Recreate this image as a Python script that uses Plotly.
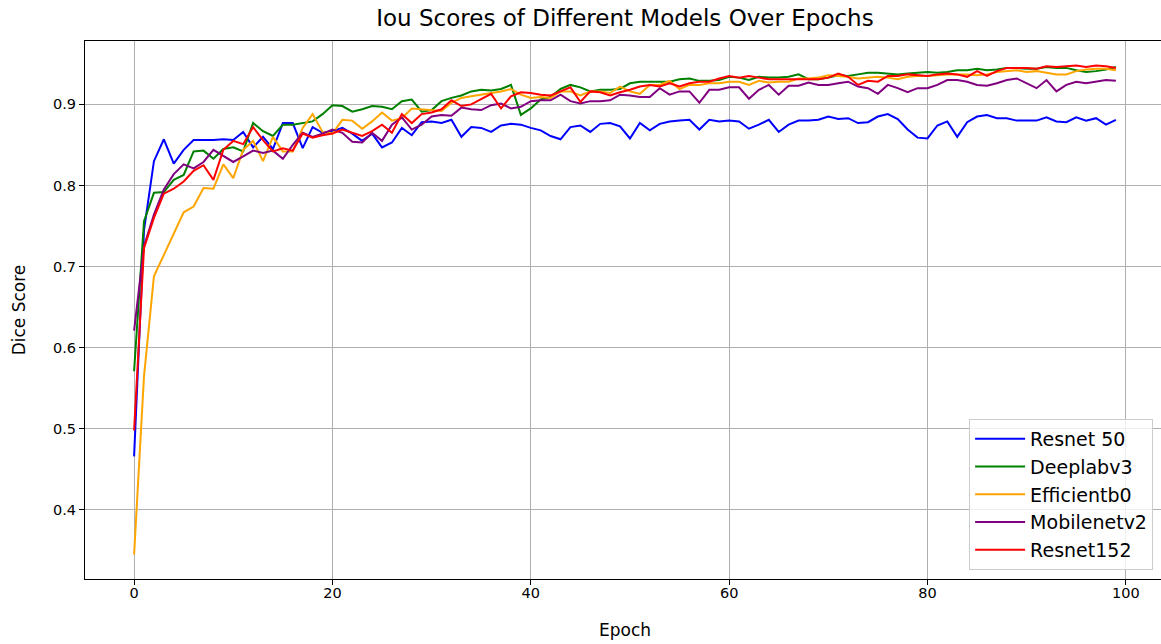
import plotly.graph_objects as go

epochs = list(range(100))

resnet50 = [0.466, 0.745, 0.830, 0.857, 0.827, 0.844, 0.856, 0.856, 0.856, 0.857,
            0.856, 0.866, 0.847, 0.860, 0.845, 0.877, 0.877, 0.846, 0.872, 0.865,
            0.867, 0.871, 0.864, 0.855, 0.864, 0.847, 0.853, 0.871, 0.862, 0.878,
            0.879, 0.877, 0.881, 0.860, 0.872, 0.871, 0.866, 0.874, 0.876, 0.875,
            0.871, 0.868, 0.861, 0.857, 0.872, 0.874, 0.866, 0.876, 0.877, 0.873,
            0.858, 0.877, 0.868, 0.876, 0.879, 0.880, 0.881, 0.869, 0.881, 0.879,
            0.880, 0.879, 0.870, 0.875, 0.881, 0.866, 0.875, 0.880, 0.880, 0.881,
            0.885, 0.882, 0.883, 0.877, 0.878, 0.885, 0.888, 0.882, 0.869, 0.859,
            0.858, 0.874, 0.879, 0.860, 0.878, 0.885, 0.887, 0.883, 0.883, 0.880,
            0.880, 0.880, 0.884, 0.879, 0.878, 0.884, 0.880, 0.883, 0.875, 0.881]

deeplabv3 = [0.571, 0.756, 0.791, 0.792, 0.807, 0.813, 0.842, 0.843, 0.833, 0.845,
             0.847, 0.842, 0.877, 0.867, 0.861, 0.875, 0.875, 0.877, 0.879, 0.888,
             0.899, 0.898, 0.891, 0.894, 0.898, 0.897, 0.894, 0.904, 0.906, 0.891,
             0.893, 0.904, 0.908, 0.911, 0.916, 0.918, 0.917, 0.919, 0.924, 0.887,
             0.895, 0.906, 0.909, 0.919, 0.924, 0.921, 0.916, 0.918, 0.918, 0.919,
             0.926, 0.928, 0.928, 0.928, 0.928, 0.931, 0.932, 0.929, 0.929, 0.930,
             0.934, 0.933, 0.930, 0.934, 0.933, 0.933, 0.934, 0.937, 0.931, 0.931,
             0.933, 0.936, 0.935, 0.937, 0.939, 0.939, 0.938, 0.937, 0.938, 0.939,
             0.940, 0.939, 0.940, 0.942, 0.942, 0.944, 0.942, 0.943, 0.945, 0.945,
             0.944, 0.944, 0.946, 0.945, 0.945, 0.942, 0.940, 0.941, 0.943, 0.946]

efficientb0 = [0.345, 0.565, 0.688, 0.715, 0.740, 0.767, 0.774, 0.797, 0.796, 0.826,
               0.809, 0.844, 0.855, 0.830, 0.860, 0.842, 0.842, 0.871, 0.888, 0.866,
               0.864, 0.881, 0.880, 0.870, 0.879, 0.890, 0.880, 0.883, 0.895, 0.894,
               0.893, 0.892, 0.902, 0.908, 0.910, 0.912, 0.914, 0.916, 0.919, 0.912,
               0.908, 0.909, 0.908, 0.916, 0.916, 0.911, 0.916, 0.916, 0.914, 0.922,
               0.916, 0.913, 0.924, 0.924, 0.929, 0.919, 0.924, 0.924, 0.926, 0.926,
               0.928, 0.928, 0.924, 0.929, 0.927, 0.928, 0.928, 0.932, 0.932, 0.933,
               0.936, 0.935, 0.934, 0.932, 0.933, 0.934, 0.933, 0.931, 0.934, 0.935,
               0.935, 0.936, 0.937, 0.937, 0.937, 0.936, 0.937, 0.940, 0.941, 0.942,
               0.940, 0.941, 0.939, 0.937, 0.937, 0.941, 0.943, 0.944, 0.944, 0.942]

mobilenetv2 = [0.621, 0.725, 0.764, 0.795, 0.814, 0.826, 0.821, 0.829, 0.844, 0.837,
               0.829, 0.836, 0.843, 0.840, 0.843, 0.833, 0.850, 0.865, 0.860, 0.864,
               0.869, 0.865, 0.854, 0.853, 0.865, 0.855, 0.875, 0.884, 0.869, 0.875,
               0.885, 0.887, 0.886, 0.896, 0.894, 0.893, 0.899, 0.901, 0.895, 0.897,
               0.904, 0.905, 0.905, 0.912, 0.904, 0.901, 0.904, 0.904, 0.905, 0.912,
               0.911, 0.909, 0.909, 0.920, 0.912, 0.916, 0.916, 0.902, 0.918, 0.918,
               0.921, 0.921, 0.907, 0.918, 0.924, 0.912, 0.923, 0.923, 0.927, 0.924,
               0.924, 0.926, 0.928, 0.922, 0.920, 0.913, 0.924, 0.920, 0.915, 0.920,
               0.920, 0.924, 0.930, 0.930, 0.928, 0.924, 0.923, 0.926, 0.930, 0.932,
               0.926, 0.920, 0.930, 0.916, 0.924, 0.928, 0.926, 0.928, 0.930, 0.929]

resnet152 = [0.498, 0.723, 0.760, 0.790, 0.796, 0.805, 0.818, 0.825, 0.807, 0.844,
             0.855, 0.851, 0.872, 0.856, 0.842, 0.846, 0.843, 0.864, 0.859, 0.862,
             0.864, 0.869, 0.865, 0.861, 0.867, 0.875, 0.865, 0.888, 0.877, 0.888,
             0.890, 0.894, 0.905, 0.898, 0.900, 0.906, 0.913, 0.895, 0.910, 0.915,
             0.914, 0.912, 0.911, 0.916, 0.921, 0.903, 0.916, 0.915, 0.911, 0.915,
             0.918, 0.922, 0.924, 0.922, 0.926, 0.922, 0.926, 0.928, 0.928, 0.932,
             0.935, 0.933, 0.935, 0.933, 0.931, 0.931, 0.931, 0.931, 0.931, 0.931,
             0.933, 0.938, 0.934, 0.924, 0.929, 0.928, 0.935, 0.935, 0.937, 0.936,
             0.935, 0.937, 0.938, 0.937, 0.934, 0.941, 0.935, 0.941, 0.945, 0.945,
             0.945, 0.944, 0.947, 0.946, 0.947, 0.948, 0.946, 0.948, 0.947, 0.945]

series_names = ["Resnet 50", "Deeplabv3", "Efficientb0", "Mobilenetv2", "Resnet152"]
series_values = [resnet50, deeplabv3, efficientb0, mobilenetv2, resnet152]
series_colors = ["blue", "green", "orange", "purple", "red"]

x_ticks = [0, 20, 40, 60, 80, 100]
y_ticks = [0.4, 0.5, 0.6, 0.7, 0.8, 0.9]

FONT = "DejaVu Sans"
FIG_W, FIG_H = 1166, 644

fig = go.Figure()
for name, vals, col in zip(series_names, series_values, series_colors):
    fig.add_trace(go.Scatter(x=epochs, y=vals, mode="lines", name=name,
                             legendgroup=name,
                             line=dict(color=col, width=2)))

axis_common = dict(showline=True, linecolor="black", linewidth=1, mirror=True,
                   showgrid=True, gridcolor="#b0b0b0", gridwidth=1,
                   ticks="outside", ticklen=5, tickcolor="black", tickwidth=1,
                   zeroline=False, automargin=False,
                   tickfont=dict(family=FONT, size=14.5, color="black"))

fig.update_layout(
    width=FIG_W, height=FIG_H, autosize=False,
    paper_bgcolor="white", plot_bgcolor="white",
    margin=dict(l=85, r=1, t=41, b=65),
    font=dict(family=FONT, color="black"),
    title=dict(text="Iou Scores of Different Models Over Epochs",
               x=0.536, xanchor="center", y=0.972, yanchor="middle",
               yref="container", font=dict(family=FONT, size=23, color="black")),
    xaxis=dict(range=[-4.95, 103.95], tickvals=x_ticks, ticklabelstandoff=-4,
               title=dict(text="Epoch", font=dict(family=FONT, size=17), standoff=23),
               **axis_common),
    yaxis=dict(range=[0.31485, 0.97815], tickvals=y_ticks, tickformat=".1f",
               title=dict(text="Dice Score", font=dict(family=FONT, size=17), standoff=23),
               **axis_common),
    legend=dict(x=0.989, y=0.0167, xanchor="right", yanchor="bottom",
                bgcolor="rgba(255,255,255,0.8)", bordercolor="#cccccc", borderwidth=1,
                font=dict(family=FONT, size=19, color="black"),
                traceorder="grouped", tracegroupgap=0, itemwidth=50),
    showlegend=True,
)

post = ("document.body.style.margin='0';"
        "document.documentElement.style.overflow='hidden';"
        "document.body.style.overflow='hidden';"
        "var gd=document.getElementById('{plot_id}');"
        "Plotly.relayout(gd,{width:%d,height:%d});" % (FIG_W, FIG_H))

fig.write_html("out.html", post_script=post, config={"displayModeBar": False})
